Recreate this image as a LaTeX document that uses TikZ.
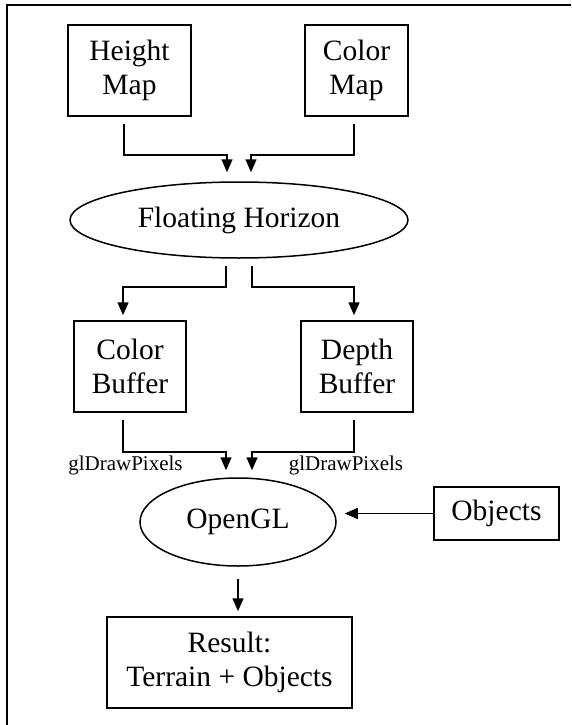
\documentclass[tikz,border=0pt]{standalone}
\usepackage{fontspec}
\setmainfont{Liberation Serif}
\usetikzlibrary{arrows.meta,shapes.geometric}

\begin{document}
\begin{tikzpicture}[
  x=1pt, y=-1pt, font=\fontsize{29.5}{34}\selectfont, line width=1.5pt,
  box/.style={draw, align=center, inner sep=0pt, minimum height=91pt},
  oval/.style={draw, ellipse, inner sep=0pt},
  lbl/.style={font=\fontsize{21}{24}\selectfont},
  arr/.style={-{Triangle[length=13pt,width=11pt]}, shorten <=7pt}]
\useasboundingbox (0,0) rectangle (571,725);
\draw[line width=2.2pt] (571,5) -- (7,5) -- (7,725);

% row 1: input maps
\node[box, minimum width=123pt] (hmap) at (129.5,70.5) {Height\\Map};
\node[box, minimum width=103pt] (cmap) at (356.5,70.5) {Color\\Map};
\node[oval, minimum width=338pt, minimum height=76pt] (horizon) at (239,220) {Floating Horizon};
\draw[arr, shorten >=9pt] ([xshift=-5.5pt]hmap.south) -- ++(0,38) -| ([xshift=-12pt]horizon.north);
\draw[arr, shorten >=9pt] ([xshift=-2.5pt]cmap.south) -- ++(0,38) -| ([xshift=12pt]horizon.north);

% row 2: buffers
\node[box, minimum width=112pt] (cbuf) at (130,366.5) {Color\\Buffer};
\node[box, minimum width=112pt] (dbuf) at (357,366.5) {Depth\\Buffer};
\draw[arr, shorten >=5pt] ([xshift=-13pt]horizon.south) -- ++(0,28) -| ([xshift=-7pt]cbuf.north);
\draw[arr, shorten >=5pt] ([xshift=13pt]horizon.south) -- ++(0,28) -| ([xshift=-3pt]dbuf.north);

% row 3: OpenGL
\node[oval, minimum width=196pt, minimum height=88pt] (ogl) at (238,522) {OpenGL};
\node[box, minimum width=125pt, minimum height=53pt] (objs) at (496.5,513.5) {Objects};
\node[lbl] (pixc) at (125.5,465) {glDrawPixels};
\node[lbl] (pixd) at (346,465) {glDrawPixels};
\draw[arr, shorten >=7pt] ([xshift=-7pt]cbuf.south) -- ++(0,39) -| ([xshift=-12pt]ogl.north);
\draw[arr, shorten >=7pt] ([xshift=-3pt]dbuf.south) -- ++(0,39) -| ([xshift=14pt]ogl.north);
\draw[arr, shorten <=0pt, shorten >=8pt] (objs.west) -- (objs.west -| ogl.east);

% row 4: result
\node[box, minimum width=245pt] (res) at (229.5,662.5) {Result:\\Terrain + Objects};
\draw[arr, shorten <=12pt, shorten >=5pt] (ogl.south) -- (ogl.south |- res.north);
\end{tikzpicture}
\end{document}
